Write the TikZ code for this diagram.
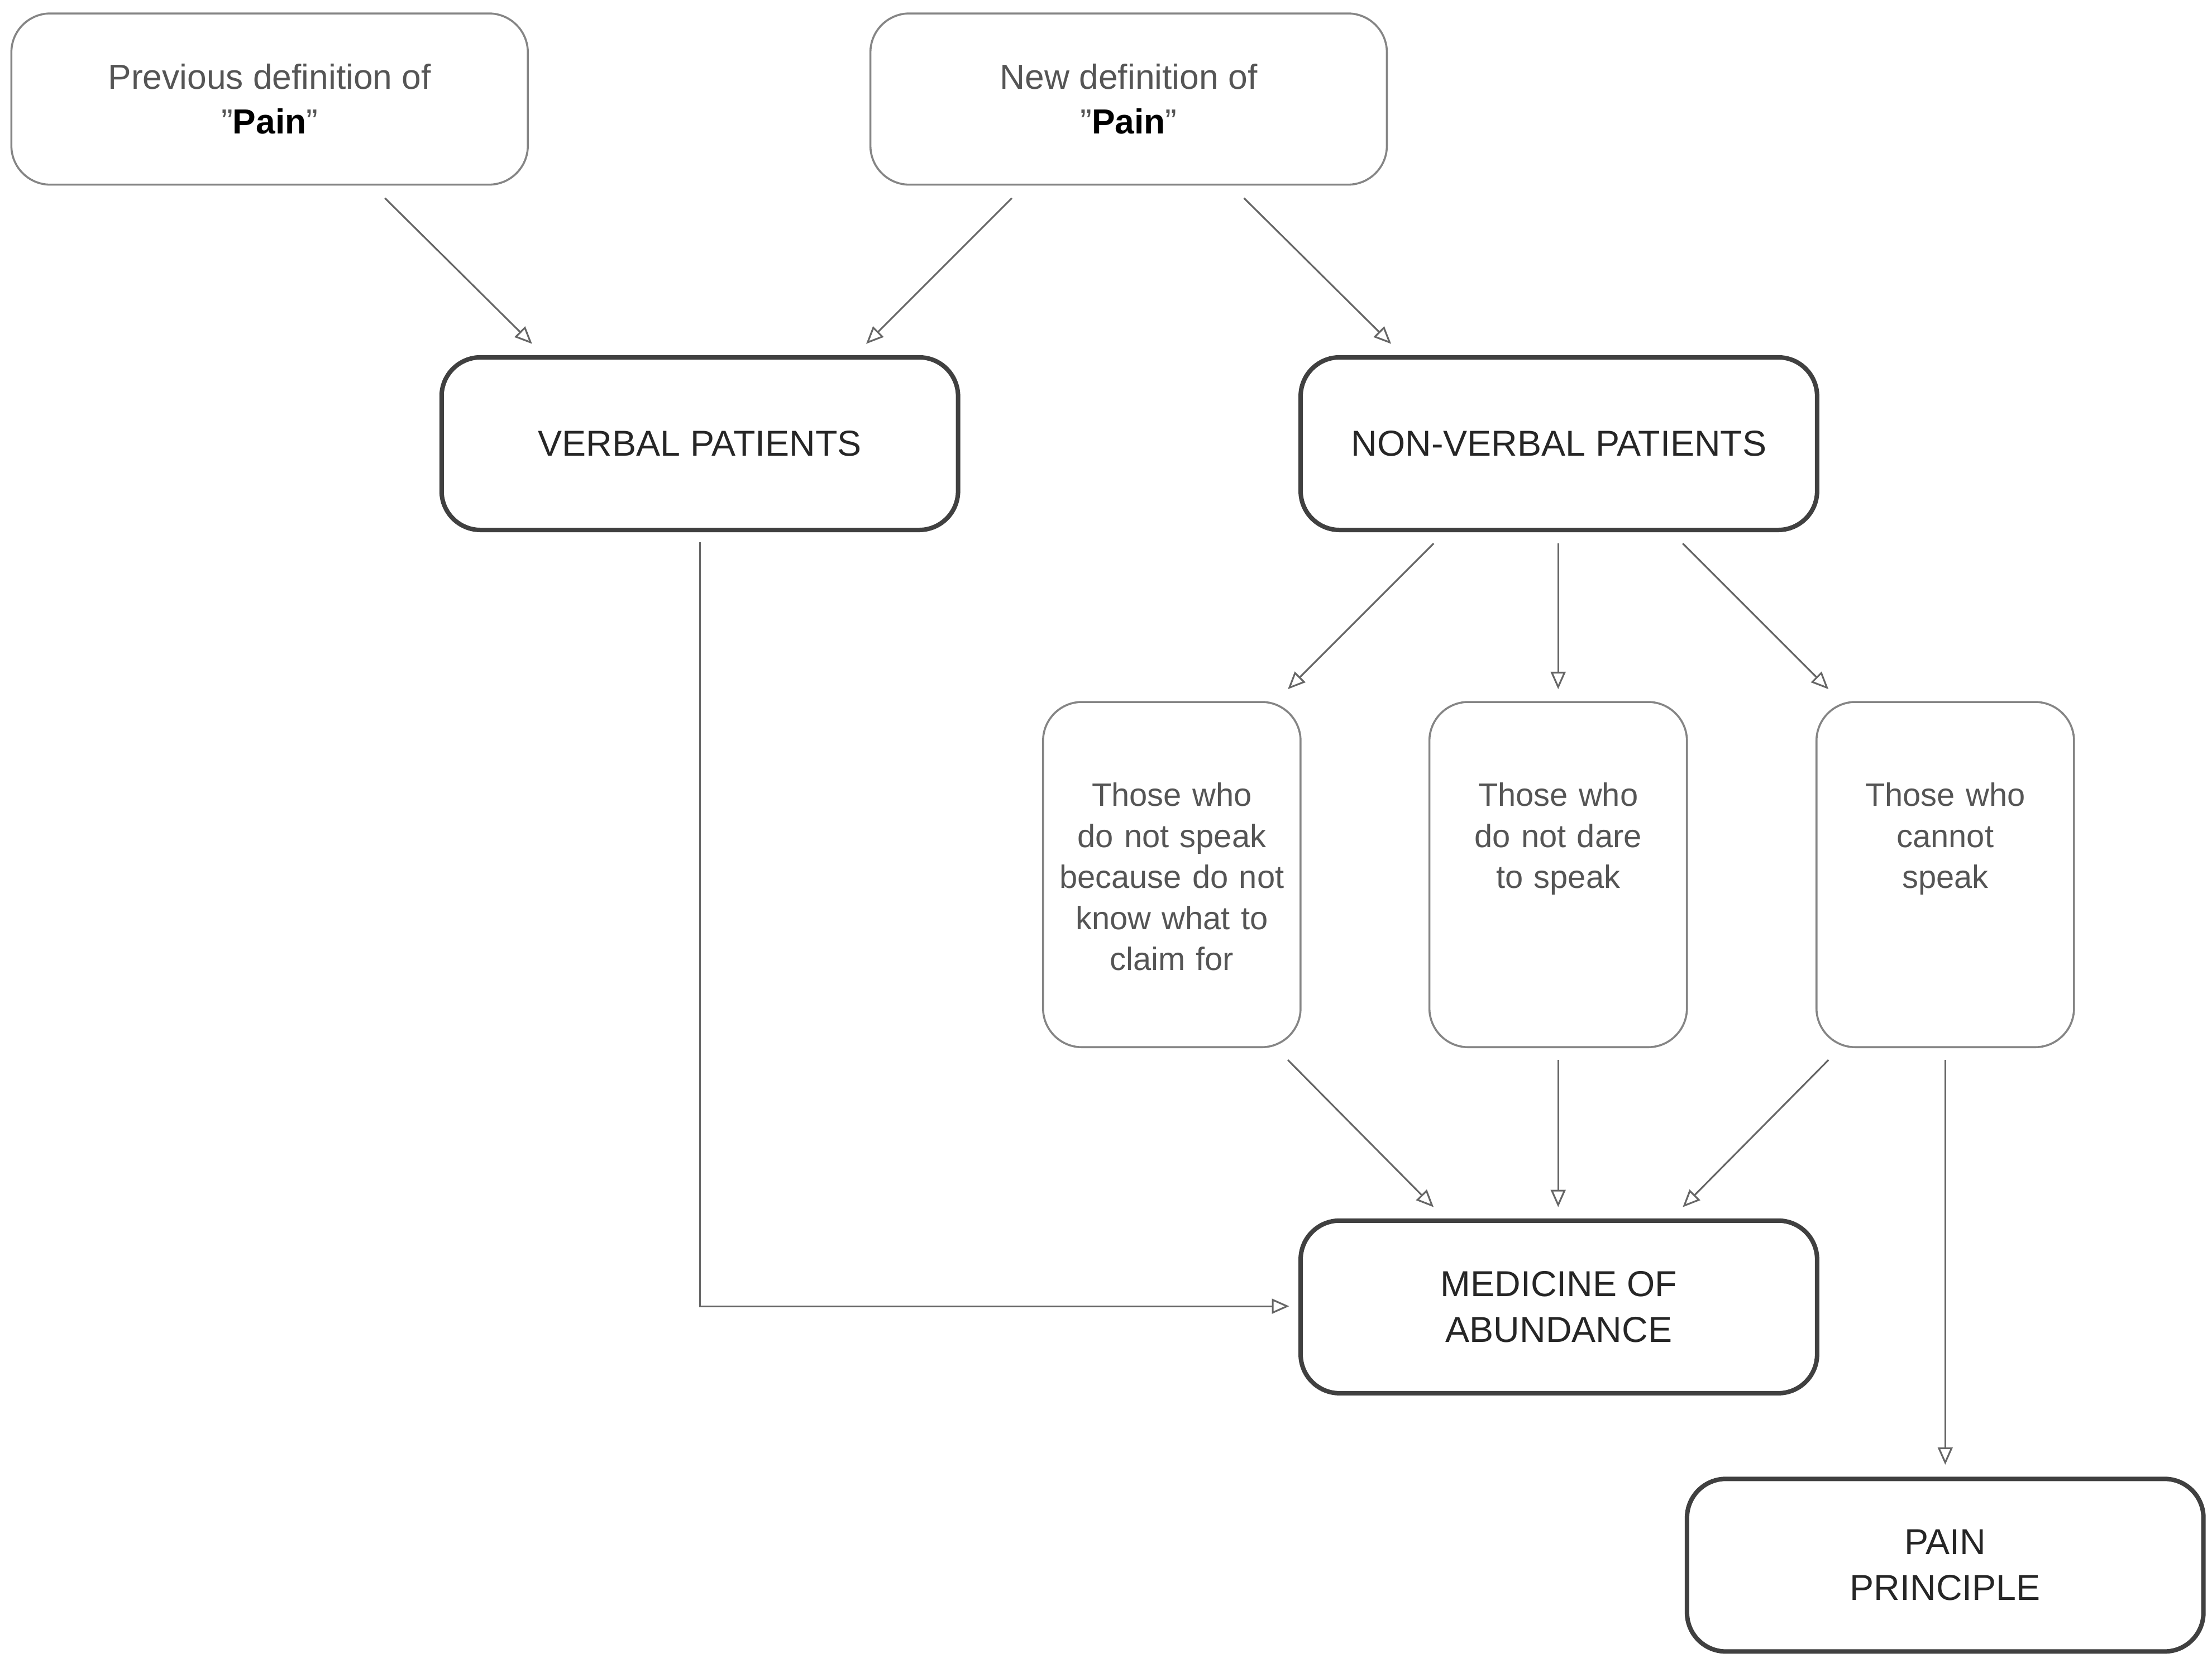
\documentclass[tikz,border=0pt]{standalone}
\usepackage{fontspec}
\setmainfont{Liberation Sans}
\usetikzlibrary{arrows.meta}
\definecolor{txt}{HTML}{555555}
\definecolor{ln}{HTML}{666666}
\begin{document}
\begin{tikzpicture}[x=0.02cm,y=-0.02cm,
  thinbox/.style={draw=ln!80,line width=0.8pt,rounded corners=0.55cm,minimum width=7.3cm,minimum height=2.42cm,text=txt,font=\fontsize{14}{18}\selectfont,align=center},
  thickbox/.style={draw=black!75,line width=1.8pt,rounded corners=0.55cm,minimum width=7.3cm,minimum height=2.44cm,text=black!85,font=\fontsize{14.5}{18.5}\selectfont,align=center},
  tallbox/.style={draw=ln!80,line width=0.8pt,rounded corners=0.55cm,minimum width=3.64cm,minimum height=4.88cm},
  small/.style={text=txt,font=\fontsize{13}{16.5}\selectfont,align=center,text width=3.5cm,anchor=north},
  arr/.style={draw=ln,line width=0.7pt,-{Triangle[open,length=7pt,width=6pt]}}]
\useasboundingbox (0,0) rectangle (1563,1175);
\node[thinbox] (prev) at (190.5,70) {Previous definition of\\"\textbf{\color{black}Pain}"};
\node[thinbox] (new) at (797.5,70) {New definition of\\"\textbf{\color{black}Pain}"};
\node[thickbox] (verbal) at (494.5,313.5) {VERBAL PATIENTS};
\node[thickbox] (nonverbal) at (1101.5,313.5) {NON-VERBAL PATIENTS};
\node[tallbox] (t1) at (828,618) {};
\node[tallbox] (t2) at (1101,618) {};
\node[tallbox] (t3) at (1374.5,618) {};
\node[small] (l1) at (828,547) {Those who\\do not speak\\because do not\\know what to\\claim for};
\node[small] (l2) at (1101,547) {Those who\\do not dare\\to speak};
\node[small] (l3) at (1374.5,547) {Those who\\cannot\\speak};
\node[thickbox] (med) at (1101.5,923.5) {MEDICINE OF\\ABUNDANCE};
\node[thickbox] (pain) at (1374.5,1106) {PAIN\\PRINCIPLE};
\coordinate (a1) at (272,140); \coordinate (b1) at (376,243);
\coordinate (a2) at (715,140); \coordinate (b2) at (612,243);
\coordinate (a3) at (879,140); \coordinate (b3) at (983,243);
\coordinate (a4) at (1013,384); \coordinate (b4) at (910,487);
\coordinate (a5) at (1101,384); \coordinate (b5) at (1101,487);
\coordinate (a6) at (1189,384); \coordinate (b6) at (1292,487);
\coordinate (a7) at (910,749); \coordinate (b7) at (1013,853);
\coordinate (a8) at (1101,749); \coordinate (b8) at (1101,853);
\coordinate (a9) at (1292,749); \coordinate (b9) at (1189,853);
\coordinate (a10) at (494.5,383); \coordinate (k10) at (494.5,923); \coordinate (b10) at (911,923);
\coordinate (a11) at (1374.5,749); \coordinate (b11) at (1374.5,1035);
\foreach \i in {1,...,9,11} \draw[arr] (a\i) -- (b\i);
\draw[arr] (a10) -- (k10) -- (b10);
\end{tikzpicture}
\end{document}
